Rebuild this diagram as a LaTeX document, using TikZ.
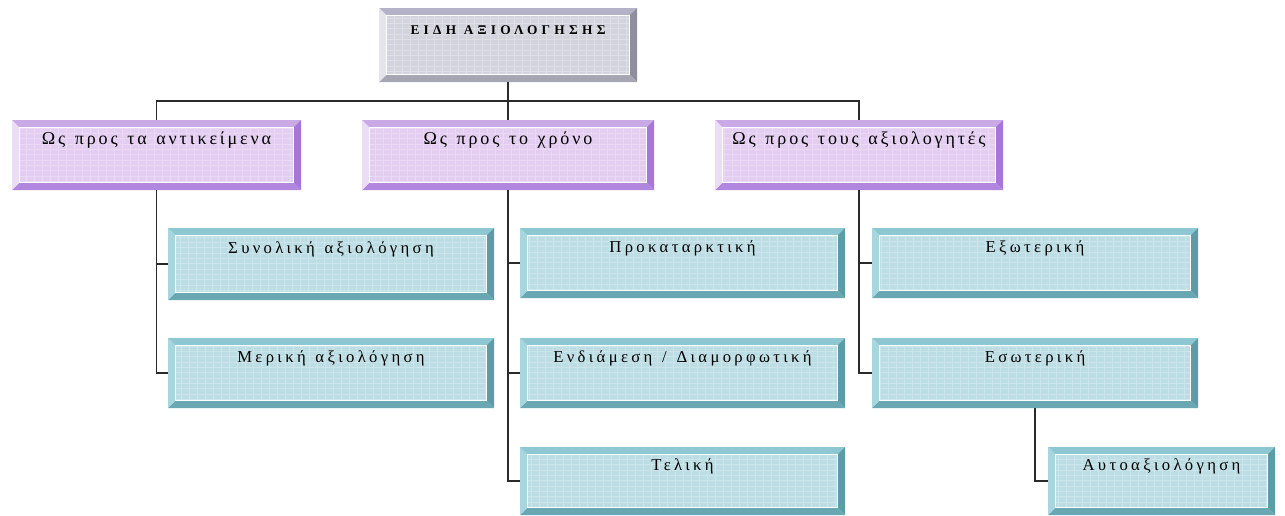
\documentclass[tikz,border=0pt]{standalone}
\usepackage{fontspec}
\setmainfont{Liberation Serif}
\newfontfamily\grsp[LetterSpace=20,WordSpace=1.3]{Liberation Serif}
\newfontfamily\grspb[LetterSpace=16,WordSpace=1.3]{Liberation Serif}
\newfontfamily\grtitle[LetterSpace=32]{Liberation Serif}
\usetikzlibrary{calc}
\definecolor{lineK}{HTML}{2A2A2A}
% gray scheme
\definecolor{gFill}{HTML}{D3D3DD}
\definecolor{gTop}{HTML}{B3B2C6}
\definecolor{gLeft}{HTML}{E4E4EC}
\definecolor{gRight}{HTML}{8E8E9C}
\definecolor{gBot}{HTML}{A6A6B4}
% purple scheme
\definecolor{pFill}{HTML}{E3CDF1}
\definecolor{pTop}{HTML}{C9A9E6}
\definecolor{pLeft}{HTML}{ECDDF6}
\definecolor{pRight}{HTML}{A676D8}
\definecolor{pBot}{HTML}{B186DE}
% teal scheme
\definecolor{tFill}{HTML}{BCDDE4}
\definecolor{tTop}{HTML}{8DC8D2}
\definecolor{tLeft}{HTML}{A6D6DE}
\definecolor{tRight}{HTML}{5D9BA7}
\definecolor{tBot}{HTML}{69A8B3}
\tikzset{
  sz/.style 2 args={minimum width=#1*0.75pt, minimum height=#2*0.75pt},
  bevbox/.style n args={5}{
    fill=#1, inner sep=0pt, text height=9pt, text depth=25.5pt,
    path picture={
      \def\bevw{5.5pt}
      \path (path picture bounding box.south west) coordinate (bsw)
            (path picture bounding box.north east) coordinate (bne)
            (path picture bounding box.north west) coordinate (bnw)
            (path picture bounding box.south east) coordinate (bse);
      \draw[white, opacity=0.25, line width=0.5pt, xstep=6pt, ystep=4pt] (bsw) grid (bne);
      \fill[#2] (bnw) -- (bne) -- ([shift={(-\bevw,-\bevw)}]bne) -- ([shift={(\bevw,-\bevw)}]bnw) -- cycle;
      \fill[#3] (bne) -- (bse) -- ([shift={(-\bevw,\bevw)}]bse) -- ([shift={(-\bevw,-\bevw)}]bne) -- cycle;
      \fill[#4] (bsw) -- (bse) -- ([shift={(-\bevw,\bevw)}]bse) -- ([shift={(\bevw,\bevw)}]bsw) -- cycle;
      \fill[#5] (bsw) -- (bnw) -- ([shift={(\bevw,-\bevw)}]bnw) -- ([shift={(\bevw,\bevw)}]bsw) -- cycle;
      \draw[white, line width=0.6pt] ([shift={(\bevw,\bevw)}]bsw) rectangle ([shift={(-\bevw,-\bevw)}]bne);
    }},
  graybox/.style={bevbox={gFill}{gTop}{gRight}{gBot}{gLeft}, font=\grtitle\bfseries\fontsize{10}{12}\selectfont},
  purplebox/.style={bevbox={pFill}{pTop}{pRight}{pBot}{pLeft}, font=\grspb\fontsize{13.5}{15}\selectfont},
  tealbox/.style={bevbox={tFill}{tTop}{tRight}{tBot}{tLeft}, font=\grsp\fontsize{12.5}{14}\selectfont},
  conn/.style={draw=lineK, line width=1.4pt},
}
\begin{document}
\begin{tikzpicture}[x=0.75pt,y=-0.75pt]
\fill[white] (0,0) rectangle (1285,515);
\useasboundingbox (0,0) rectangle (1285,515);

\node[graybox, sz={258}{74}] (top) at (508,45) {ΕΙΔΗ ΑΞΙΟΛΟΓΗΣΗΣ};

\node[purplebox, sz={289}{70}] (A) at (156.5,155) {Ως προς τα αντικείμενα};
\node[purplebox, sz={292}{70}] (B) at (508,155) {Ως προς το χρόνο};
\node[purplebox, sz={288}{70}] (C) at (859,155) {Ως προς τους αξιολογητές};

\node[tealbox, sz={326}{72}] (S1) at (331,264) {Συνολική αξιολόγηση};
\node[tealbox, sz={326}{70}] (S2) at (331,373) {Μερική αξιολόγηση};

\node[tealbox, sz={325}{70}] (P1) at (682.5,263) {Προκαταρκτική};
\node[tealbox, sz={325}{70}] (P2) at (682.5,373) {Ενδιάμεση / Διαμορφωτική};
\node[tealbox, sz={325}{68}] (P3) at (682.5,481) {Τελική};

\node[tealbox, sz={326}{70}] (E1) at (1035,263) {Εξωτερική};
\node[tealbox, sz={326}{70}] (E2) at (1035,373) {Εσωτερική};
\node[tealbox, sz={227}{68}] (E3) at (1161.5,481) {Αυτοαξιολόγηση};

\coordinate (hub) at (508,101);
\draw[conn] (top.south) -- (B.north);
\draw[conn] (A.north) |- (hub) -| (C.north);

\draw[conn] (A.south) |- (S2.west);
\draw[conn] (A.south |- S1.west) -- (S1.west);

\draw[conn] (B.south) |- (P3.west);
\draw[conn] (B.south |- P1.west) -- (P1.west);
\draw[conn] (B.south |- P2.west) -- (P2.west);

\draw[conn] (C.south) |- (E2.west);
\draw[conn] (C.south |- E1.west) -- (E1.west);

\draw[conn] (E2.south) |- (E3.west);
\end{tikzpicture}
\end{document}
